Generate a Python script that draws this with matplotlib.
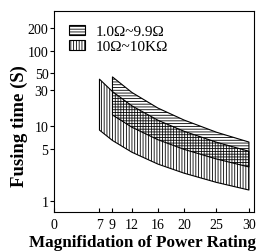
import numpy as np
import matplotlib.pyplot as plt
from matplotlib.patches import Patch
from matplotlib.ticker import FixedLocator, FixedFormatter, NullLocator

plt.rcParams['font.family'] = ['Liberation Serif', 'DejaVu Serif']
plt.rcParams['hatch.linewidth'] = 0.6

# 10 ohm ~ 10K ohm band (vertical hatch)
x_high = [7, 9, 12, 16, 20, 25, 30]
high_upper = [42, 28.7, 18.5, 11.9, 8.5, 6.07, 4.6]
high_lower = [8.8, 6.4, 4.46, 3.1, 2.35, 1.77, 1.40]

# 1.0 ohm ~ 9.9 ohm band (horizontal hatch)
x_low = [9, 12, 16, 20, 25, 30]
low_upper = [45, 27.9, 17.3, 12.0, 8.25, 6.1]
low_lower = [14, 9.6, 6.55, 4.88, 3.63, 2.84]

x_ticks = [0, 7, 9, 12, 16, 20, 25, 30]
y_ticks = [1, 5, 10, 30, 50, 100, 200]
labels = ['1.0Ω~9.9Ω', '10Ω~10KΩ']

fig = plt.figure(figsize=(2.69, 2.53), dpi=100)
ax = fig.add_axes([0.2007, 0.158, 0.744, 0.795])

ax.fill_between(x_high, high_lower, high_upper, facecolor='none',
                edgecolor='black', hatch='||||||', linewidth=0.8)
ax.fill_between(x_low, low_lower, low_upper, facecolor='none',
                edgecolor='black', hatch='------', linewidth=0.8)

ax.set_yscale('log')
ax.set_xlim(0, 30.8)
ax.set_ylim(0.713, 341)

ax.xaxis.set_major_locator(FixedLocator(x_ticks))
ax.xaxis.set_major_formatter(FixedFormatter([str(v) for v in x_ticks]))
ax.yaxis.set_major_locator(FixedLocator(y_ticks))
ax.yaxis.set_major_formatter(FixedFormatter([str(v) for v in y_ticks]))
ax.yaxis.set_minor_locator(NullLocator())
ax.tick_params(axis='x', direction='in', length=3, width=0.8, labelsize=10, pad=4)
ax.tick_params(axis='y', direction='out', length=3, width=0.8, labelsize=10, pad=1)

for s in ax.spines.values():
    s.set_linewidth(0.8)

ax.set_xlabel('Magnifidation of Power Rating', fontsize=12.3, fontweight='bold')
ax.xaxis.set_label_coords(0.44, -0.11)
ax.set_ylabel('Fusing time (S)', fontsize=13.5, fontweight='bold')
ax.yaxis.set_label_coords(-0.13, 0.43)

handles = [Patch(facecolor='white', edgecolor='black', hatch='------', linewidth=0.8),
           Patch(facecolor='white', edgecolor='black', hatch='||||||', linewidth=0.8)]
ax.legend(handles, labels, loc='upper left', bbox_to_anchor=(0.075, 0.93), frameon=False,
          fontsize=11, handlelength=1.05, handleheight=0.65, handletextpad=0.7,
          labelspacing=0.1, borderpad=0, borderaxespad=0)

fig.savefig('out.png', dpi=100)
